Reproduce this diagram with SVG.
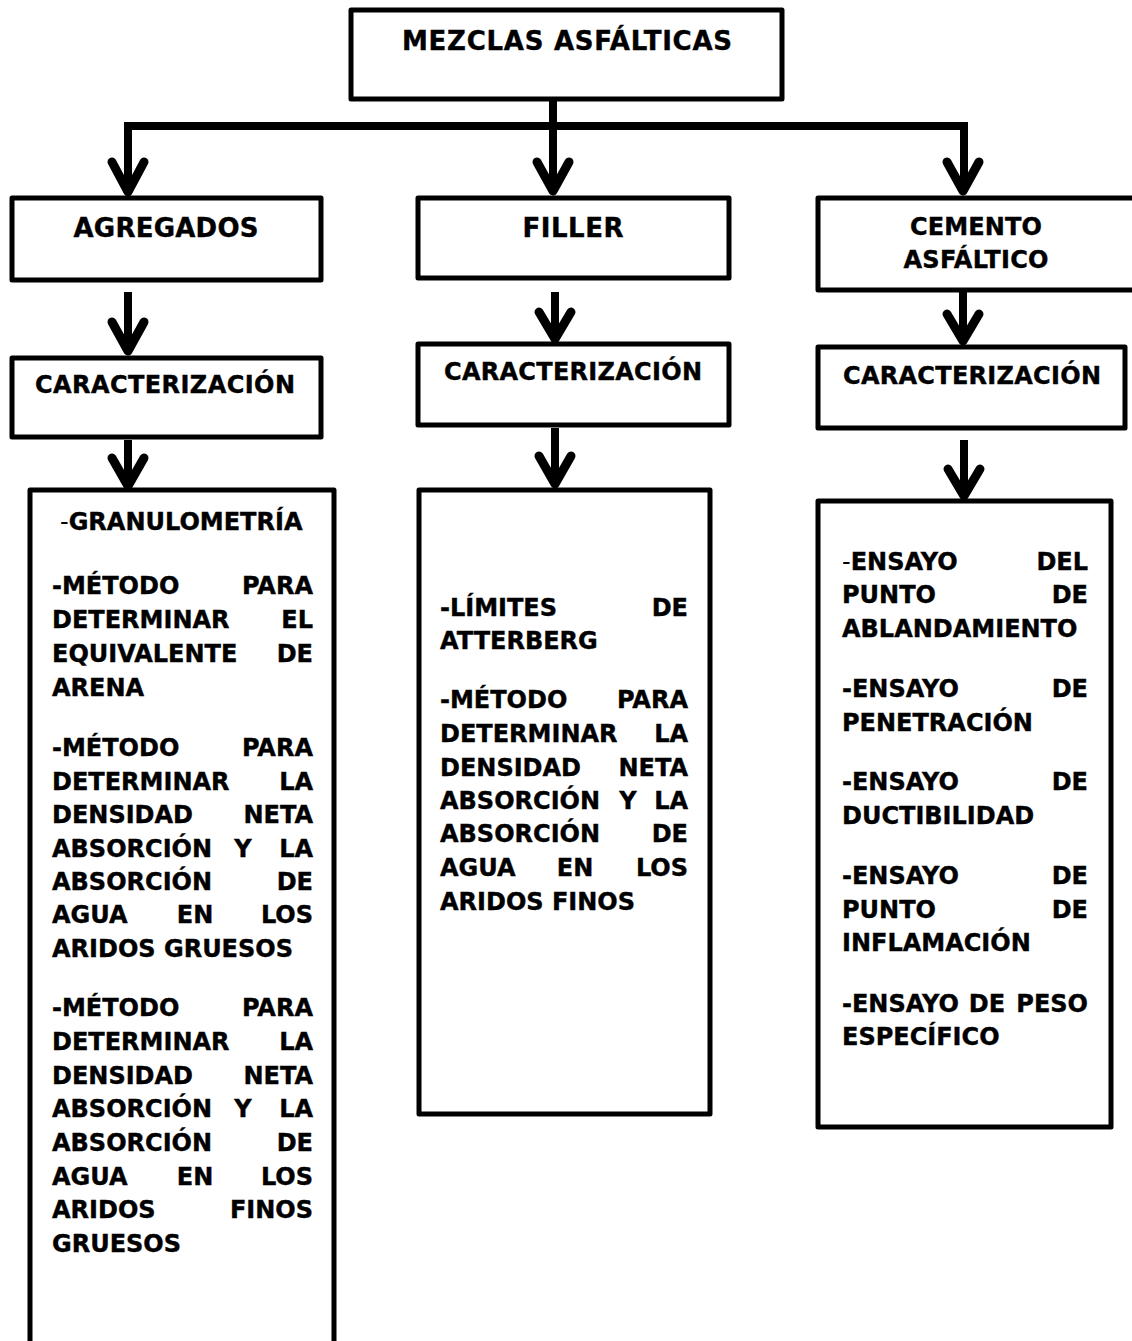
<svg xmlns="http://www.w3.org/2000/svg" width="1132" height="1341" viewBox="0 0 1132 1341">
<defs>
<style>
.box{fill:#fff;stroke:#000;stroke-width:5;stroke-linejoin:round}
.ln{fill:none;stroke:#000;stroke-width:8;stroke-linecap:butt;stroke-linejoin:miter}
.hd{fill:none;stroke:#000;stroke-width:9;stroke-linecap:round;stroke-linejoin:round}
text{font-family:"DejaVu Sans","Verdana",sans-serif;font-weight:bold;font-size:24px;fill:#000;stroke:#000;stroke-width:0.4}
.big{font-size:26px}
.c{text-anchor:middle}
.e{text-anchor:end}
.thin{font-weight:normal;stroke-width:0}
</style>
</defs>
<rect width="1132" height="1341" fill="#fff"/>

<g id="connectors">
<path class="ln" d="M553 99 V190"/>
<path class="ln" d="M128 190 V126 H964 V190"/>
<path class="hd" d="M537 162 L553 191 L569 162"/>
<path class="hd" d="M112 162 L128 192 L144 162"/>
<path class="hd" d="M947 162 L963 191 L979 162"/>
<path class="ln" d="M128 292 V350"/>
<path class="hd" d="M112 322 L128 351 L144 322"/>
<path class="ln" d="M128 440 V486"/>
<path class="hd" d="M112 458 L128 486 L144 458"/>
<path class="ln" d="M555 292 V338"/>
<path class="hd" d="M539 312 L555 339 L571 312"/>
<path class="ln" d="M555 428 V484"/>
<path class="hd" d="M539 456 L555 484 L571 456"/>
<path class="ln" d="M963 292 V340"/>
<path class="hd" d="M947 314 L963 341 L979 314"/>
<path class="ln" d="M964 440 V495"/>
<path class="hd" d="M948 469 L964 496 L980 469"/>
</g>

<g id="n-mezclas">
<rect class="box" x="351" y="10" width="431" height="89"/>
<text class="c big" x="567" y="50" textLength="330" lengthAdjust="spacing">MEZCLAS ASFÁLTICAS</text>
</g>

<g id="n-agregados">
<rect class="box" x="12" y="198" width="309" height="82"/>
<text class="c big" x="166" y="237" textLength="185" lengthAdjust="spacing">AGREGADOS</text>
</g>

<g id="n-filler">
<rect class="box" x="418" y="198" width="311" height="80"/>
<text class="c big" x="573" y="237" textLength="101" lengthAdjust="spacing">FILLER</text>
</g>

<g id="n-cemento">
<rect class="box" x="818" y="198" width="320" height="92"/>
<text class="c" x="976" y="235" textLength="132" lengthAdjust="spacing">CEMENTO</text>
<text class="c" x="976" y="268" textLength="145" lengthAdjust="spacing">ASFÁLTICO</text>
</g>

<g id="n-caract-1">
<rect class="box" x="12" y="358" width="309" height="79"/>
<text class="c" x="165" y="393" textLength="260" lengthAdjust="spacing">CARACTERIZACIÓN</text>
</g>

<g id="n-caract-2">
<rect class="box" x="418" y="344" width="311" height="81"/>
<text class="c" x="573" y="380" textLength="258" lengthAdjust="spacing">CARACTERIZACIÓN</text>
</g>

<g id="n-caract-3">
<rect class="box" x="818" y="347" width="307" height="81"/>
<text class="c" x="972" y="384" textLength="258" lengthAdjust="spacing">CARACTERIZACIÓN</text>
</g>

<g id="n-detalle-agregados">
<rect class="box" x="30" y="490" width="304" height="900"/>
<text x="60" y="530"><tspan class="thin">-</tspan>GRANULOMETRÍA</text>
<text x="52" y="594">-MÉTODO</text><text class="e" x="313" y="594">PARA</text>
<text x="52" y="628">DETERMINAR</text><text class="e" x="313" y="628">EL</text>
<text x="52" y="662">EQUIVALENTE</text><text class="e" x="313" y="662">DE</text>
<text x="52" y="696">ARENA</text>
<text x="52" y="756">-MÉTODO</text><text class="e" x="313" y="756">PARA</text>
<text x="52" y="790">DETERMINAR</text><text class="e" x="313" y="790">LA</text>
<text x="52" y="823">DENSIDAD</text><text class="e" x="313" y="823">NETA</text>
<text x="52" y="857">ABSORCIÓN</text><text class="c" x="243" y="857">Y</text><text class="e" x="313" y="857">LA</text>
<text x="52" y="890">ABSORCIÓN</text><text class="e" x="313" y="890">DE</text>
<text x="52" y="923">AGUA</text><text class="c" x="195" y="923">EN</text><text class="e" x="313" y="923">LOS</text>
<text x="52" y="957">ARIDOS GRUESOS</text>
<text x="52" y="1016">-MÉTODO</text><text class="e" x="313" y="1016">PARA</text>
<text x="52" y="1050">DETERMINAR</text><text class="e" x="313" y="1050">LA</text>
<text x="52" y="1084">DENSIDAD</text><text class="e" x="313" y="1084">NETA</text>
<text x="52" y="1117">ABSORCIÓN</text><text class="c" x="243" y="1117">Y</text><text class="e" x="313" y="1117">LA</text>
<text x="52" y="1151">ABSORCIÓN</text><text class="e" x="313" y="1151">DE</text>
<text x="52" y="1185">AGUA</text><text class="c" x="195" y="1185">EN</text><text class="e" x="313" y="1185">LOS</text>
<text x="52" y="1218">ARIDOS</text><text class="e" x="313" y="1218">FINOS</text>
<text x="52" y="1252">GRUESOS</text>
</g>

<g id="n-detalle-filler">
<rect class="box" x="419" y="490" width="291" height="624"/>
<text x="440" y="616">-LÍMITES</text><text class="e" x="688" y="616">DE</text>
<text x="440" y="649">ATTERBERG</text>
<text x="440" y="708">-MÉTODO</text><text class="e" x="688" y="708">PARA</text>
<text x="440" y="742">DETERMINAR</text><text class="e" x="688" y="742">LA</text>
<text x="440" y="776">DENSIDAD</text><text class="e" x="688" y="776">NETA</text>
<text x="440" y="809">ABSORCIÓN</text><text class="c" x="628" y="809">Y</text><text class="e" x="688" y="809">LA</text>
<text x="440" y="842">ABSORCIÓN</text><text class="e" x="688" y="842">DE</text>
<text x="440" y="876">AGUA</text><text class="c" x="575" y="876">EN</text><text class="e" x="688" y="876">LOS</text>
<text x="440" y="910">ARIDOS FINOS</text>
</g>

<g id="n-detalle-cemento">
<rect class="box" x="818" y="501" width="293" height="626"/>
<text x="842" y="570"><tspan class="thin">-</tspan>ENSAYO</text><text class="e" x="1088" y="570">DEL</text>
<text x="842" y="603">PUNTO</text><text class="e" x="1088" y="603">DE</text>
<text x="842" y="637">ABLANDAMIENTO</text>
<text x="842" y="697">-ENSAYO</text><text class="e" x="1088" y="697">DE</text>
<text x="842" y="731">PENETRACIÓN</text>
<text x="842" y="790">-ENSAYO</text><text class="e" x="1088" y="790">DE</text>
<text x="842" y="824">DUCTIBILIDAD</text>
<text x="842" y="884">-ENSAYO</text><text class="e" x="1088" y="884">DE</text>
<text x="842" y="918">PUNTO</text><text class="e" x="1088" y="918">DE</text>
<text x="842" y="951">INFLAMACIÓN</text>
<text x="842" y="1012">-ENSAYO</text><text class="c" x="987" y="1012">DE</text><text class="e" x="1088" y="1012">PESO</text>
<text x="842" y="1045">ESPECÍFICO</text>
</g>
</svg>
